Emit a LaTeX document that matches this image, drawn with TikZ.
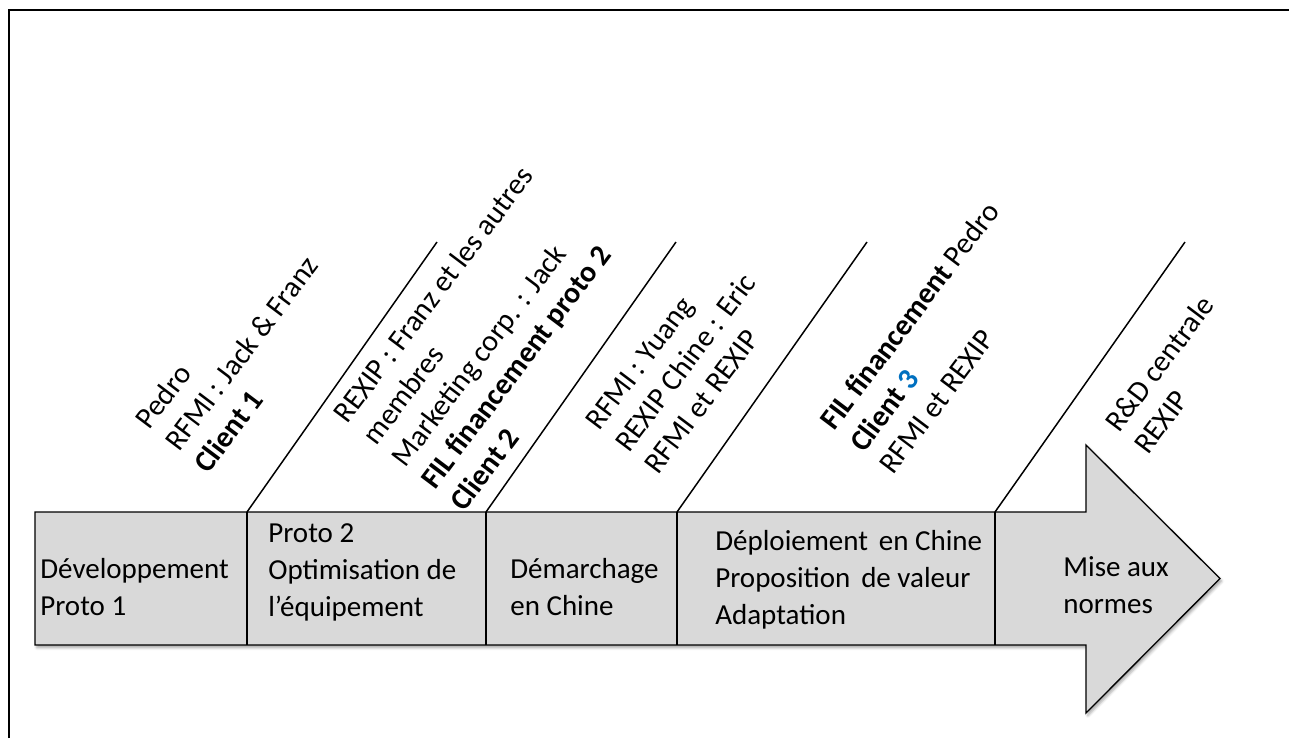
\documentclass[tikz,border=0pt]{standalone}
\usepackage{fontspec}
\setmainfont{Carlito}
\usetikzlibrary{shadows.blur}
\definecolor{phasegray}{RGB}{217,217,217}
\definecolor{officeblue}{RGB}{0,112,192}

\begin{document}
\begin{tikzpicture}[x=0.02cm, y=-0.02cm,
    phase/.style={anchor=base west, align=left, inner sep=0pt,
        font=\fontsize{16.5}{20.8}\selectfont},
    actor/.style={anchor=base west, align=left, inner sep=0pt, rotate=53,
        font=\fontsize{17}{20.8}\selectfont}]
    \useasboundingbox (0,0) rectangle (1289,738);
    % frame
    \draw[line width=1.2pt] (9.2,738) -- (9.2,10) -- (1289,10);
    % big arrow
    \draw[fill=phasegray, line width=0.75pt,
        blur shadow={shadow xshift=1pt, shadow yshift=-1.5pt,
        shadow blur radius=1.5pt, shadow opacity=35}]
        (35,512) -- (1086,512) -- (1086,445) -- (1220,578.5)
        -- (1086,713) -- (1086,645) -- (35,645) -- cycle;
    % dividers and slanted lines
    \foreach \x [count=\i] in {247,486,677,995} {
        \coordinate (t\i) at (\x,512);
        \coordinate (b\i) at (\x,645);
        \coordinate (e\i) at (\x+190,242);
    }
    \foreach \i in {1,...,4} {
        \draw[line width=1.1pt] (t\i) -- (b\i);
        \draw[line width=0.85pt] (t\i) -- (e\i);
    }
    % phases (anchored on the last line)
    \node[phase] (ph1) at (40,615) {Développement\\Proto 1};
    \node[phase] (ph2) at (268,616) {Proto 2\\Optimisation de\\l’équipement};
    \node[phase] (ph3) at (510,615) {Démarchage\\en Chine};
    \node[phase] (ph4) at (715,624) {Déploiement\hspace{0.15em} en Chine\\Proposition\hspace{0.15em} de valeur\\Adaptation};
    \node[phase] (ph5) at (1063,613) {Mise aux\\normes};
    % actors (anchored on the last line)
    \node[actor] (ac1) at (208,475) {Pedro\\RFMI : Jack \& Franz\\\textbf{Client 1}};
    \node[actor] (ac2) at (464,513) {REXIP : Franz et les autres\\membres\\Marketing corp. : Jack\\\textbf{FIL financement proto 2}\\\textbf{Client 2}};
    \node[actor] (ac3) at (658,476) {RFMI : Yuang\\REXIP Chine : Eric\\RFMI et REXIP};
    \node[actor] (ac4) at (893,476) {\textbf{FIL financement} Pedro\\\textbf{Client \textcolor{officeblue}{3}}\\RFMI et REXIP};
    \node[actor] (ac5) at (1148,456) {R\&D centrale\\REXIP};
\end{tikzpicture}
\end{document}
